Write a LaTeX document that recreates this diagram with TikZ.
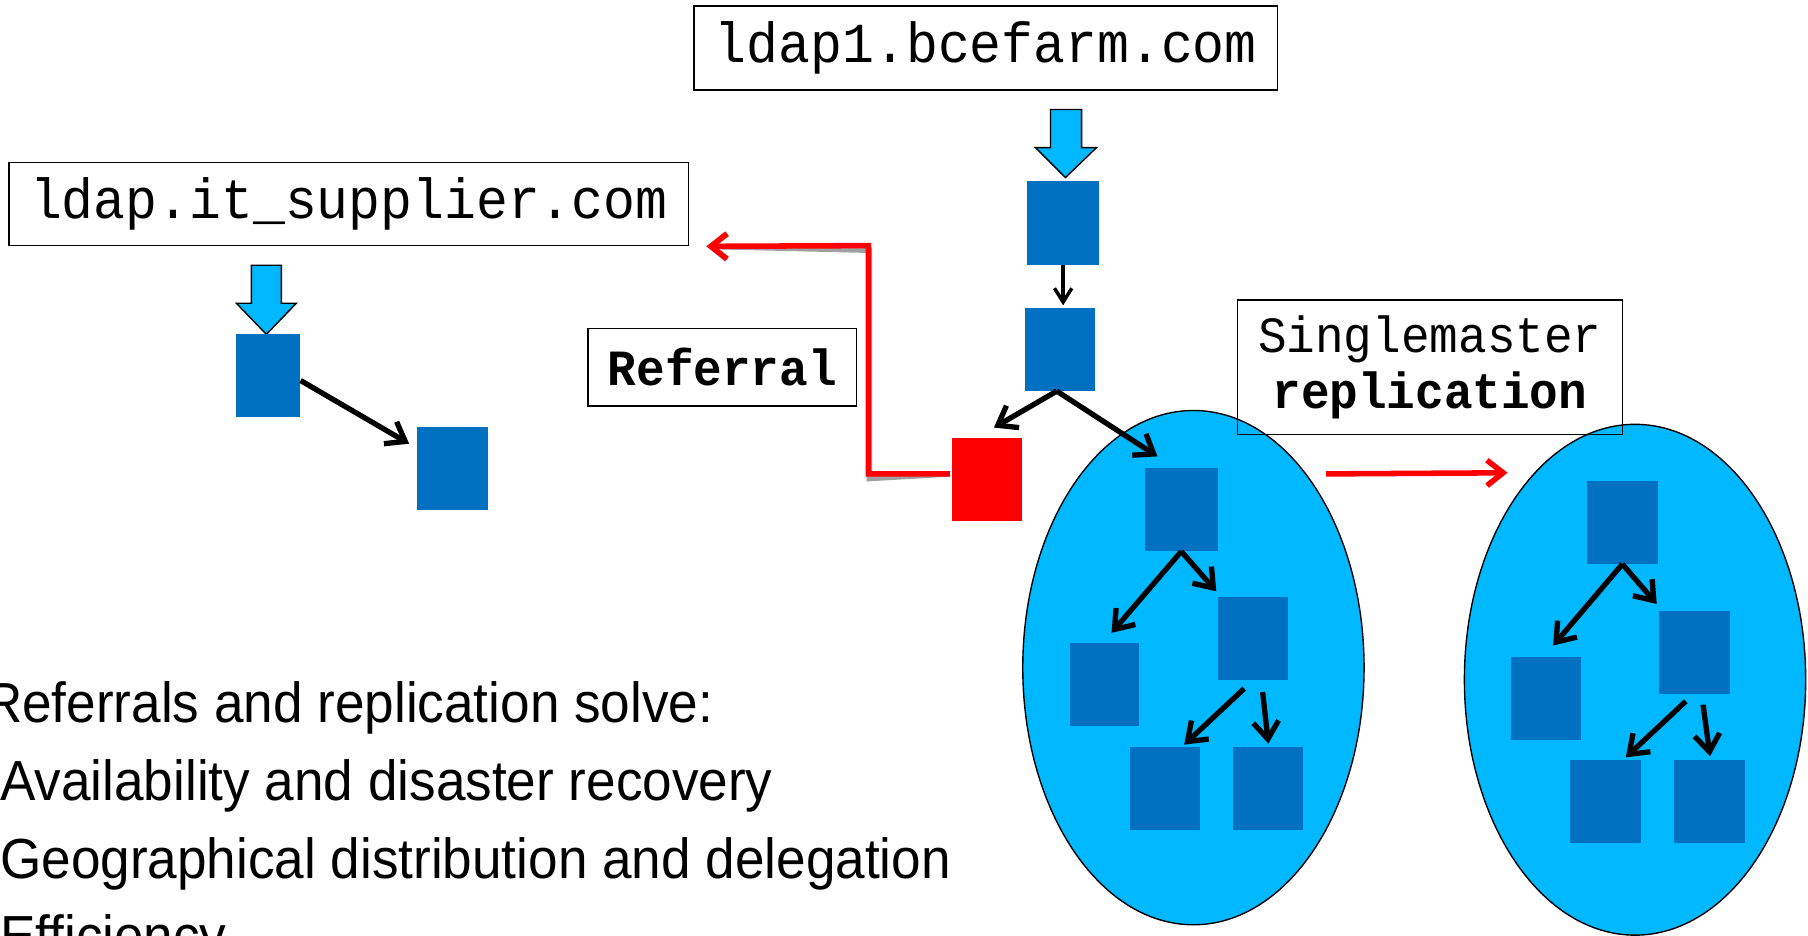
\documentclass[tikz,border=0pt]{standalone}
\usepackage{fontspec}
\setmainfont{Liberation Sans}[FakeStretch=0.94]
\setmonofont{Liberation Mono}[FakeStretch=0.94]
\usetikzlibrary{arrows.meta,calc,shapes.geometric}

\definecolor{sky}{RGB}{0,184,255}
\definecolor{entry}{RGB}{0,112,192}
\definecolor{refred}{RGB}{255,0,0}
\definecolor{shadowgray}{RGB}{160,160,160}

\tikzset{
  entrybox/.style={fill=entry, inner sep=0pt, minimum width=61pt, minimum height=72pt},
  hostbox/.style={draw, line width=1.3pt, inner sep=0pt, font=\fontsize{49}{49}\ttfamily},
  labelbox/.style={draw, line width=1.3pt, inner sep=0pt, align=center, font=\fontsize{44}{48}\ttfamily},
  server/.style={ellipse, draw, fill=sky, line width=1.2pt, inner sep=0pt},
  blockarrow/.style={fill=sky, draw, line width=1.2pt, line join=miter},
  link/.style={line width=4.6pt, -{Straight Barb[length=15pt,width=22pt]}},
  thinlink/.style={line width=3pt, -{Straight Barb[length=12pt,width=15pt]}},
  redlink/.style={line width=4.8pt, draw=refred, -{Straight Barb[length=14pt,width=22pt]}},
  redshadow/.style={line width=4.8pt, draw=shadowgray, -{Straight Barb[length=14pt,width=22pt]}},
  bodytext/.style={anchor=base west, inner sep=0pt, font=\fontsize{49}{49}\selectfont}
}

\begin{document}
\begin{tikzpicture}[x=1pt,y=-1pt]
\useasboundingbox (0,0) rectangle (1568,811);

% directory servers (replica sets)
\node[server, minimum width=296pt, minimum height=446pt] (EL) at (1035,579) {};
\node[server, minimum width=296pt, minimum height=443pt] (ER) at (1418,589.5) {};

% host labels
\node[hostbox, minimum width=506pt, minimum height=73pt] (B1) at (855,41.5) {ldap1.bcefarm.com};
\node[hostbox, minimum width=589pt, minimum height=72pt] (B2) at (302.5,177) {ldap.it\_supplier.com};
\node[labelbox, minimum width=233pt, minimum height=67pt] (refl) at (626.5,318.5) {\textbf{Referral}};
\node[labelbox, minimum width=334pt, minimum height=117pt] (repl) at (1240,318.5) {Singlemaster\\\textbf{replication}};

% entry points
\draw[blockarrow] (911,95) -- (938,95) -- (938,128) -- (951,128) -- (924,154) -- (898,128) -- (911,128) -- cycle;
\draw[blockarrow] (218,230) -- (244,230) -- (244,263) -- (257,263) -- (231,290) -- (205,263) -- (218,263) -- cycle;

% bcefarm tree
\node[entrybox, minimum width=62pt, minimum height=73pt] (A1) at (922,193.5) {};
\node[entrybox] (A2) at (919.5,303) {};
\node[entrybox, fill=refred, minimum width=60pt] (R0) at (856,416) {};

% it_supplier tree
\node[entrybox, minimum width=56pt] (S1) at (232.5,326) {};
\node[entrybox] (S2) at (392.5,406) {};

% master replica
\node[entrybox, minimum width=63pt] (L1) at (1024.5,442) {};
\node[entrybox, minimum width=60pt] (L2) at (958,594) {};
\node[entrybox] (L3) at (1086.5,554) {};
\node[entrybox] (L4) at (1010.5,684) {};
\node[entrybox] (L5) at (1099.5,684) {};

% slave replica
\node[entrybox, minimum width=62pt] (M1) at (1407,453) {};
\node[entrybox] (M2) at (1340.5,606) {};
\node[entrybox] (M3) at (1469.5,566) {};
\node[entrybox] (M4) at (1392.5,695) {};
\node[entrybox] (M5) at (1482.5,695) {};

% tree links
\draw[thinlink] (A1.south) -- ([shift={(2.5,-2)}]A2.north);
\draw[link] ([shift={(-3,0)}]A2.south) -- ([shift={(6,-9)}]R0.north);
\draw[link] ([shift={(-3,0)}]A2.south) -- ([shift={(11,-10)}]L1.north west);
\draw[link] ([shift={(0,4)}]S1.east) -- ([shift={(-7,15)}]S2.north west);

\draw[link] (L1.south) -- ([shift={(6,-9)}]L2.north);
\draw[link] (L1.south) -- ([shift={(-1,-5)}]L3.north west);
\draw[link] ([shift={(-7.5,7)}]L3.south) -- ([shift={(16.5,-2)}]L4.north);
\draw[link] ([shift={(8.5,10)}]L3.south) -- ([shift={(0.5,-3)}]L5.north);

\draw[link] (M1.south) -- ([shift={(6.5,-10)}]M2.north);
\draw[link] (M1.south) -- ([shift={(-2,-6)}]M3.north west);
\draw[link] ([shift={(-7.5,6)}]M3.south) -- ([shift={(17.5,-2)}]M4.north);
\draw[link] ([shift={(7.5,9)}]M3.south) -- ([shift={(0.5,-3)}]M5.north);

% referral back to the supplier directory
\coordinate (refstart) at ([shift={(-2,-5)}]R0.west);
\coordinate (reftip) at ([shift={(15,0)}]B2.south east);
\begin{scope}[shift={(1,4)}]
  \draw[redshadow] (refstart) -- (753,411) -- (753,213) -- (reftip);
\end{scope}
\draw[redlink] (refstart) -- (753,411) -- (753,213) -- (reftip);

% replication between servers
\coordinate (repstart) at (1150,411);
\draw[redlink] (repstart) -- ([xshift=-23pt]ER.116);

% summary text
\node[bodytext] (t1) at (-14,627) {Referrals and replication solve:};
\node[bodytext] (t2) at (0,694) {Availability and disaster recovery};
\node[bodytext] (t3) at (0,762) {Geographical distribution and delegation};
\node[bodytext] (t4) at (0,829) {Efficiency};
\end{tikzpicture}
\end{document}
